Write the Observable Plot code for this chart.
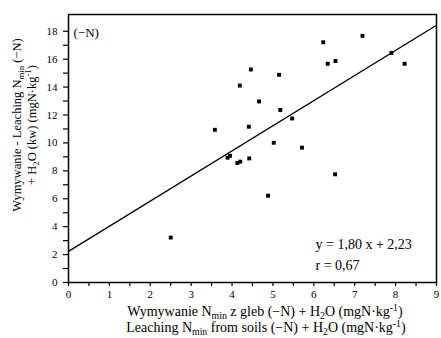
<!DOCTYPE html>
<html><head><meta charset="utf-8">
<script src="https://cdn.jsdelivr.net/npm/d3@7"></script>
<script src="https://cdn.jsdelivr.net/npm/@observablehq/plot@0.6"></script>
<style>body{margin:0;background:#fff} svg{display:block}</style>
</head><body><div id="chart"></div>
<script>
// Data
const xValues = [2.50, 3.58, 3.89, 3.95, 4.13, 4.20, 4.19, 4.41, 4.42, 4.46, 4.66, 4.88, 5.02, 5.15, 5.18, 5.47, 5.71, 6.23, 6.34, 6.53, 6.52, 7.19, 7.90, 8.22];
const yValues = [3.22, 10.94, 8.94, 9.08, 8.56, 8.66, 14.11, 11.16, 8.89, 15.26, 12.97, 6.22, 10.01, 14.88, 12.36, 11.75, 9.66, 17.21, 15.67, 15.87, 7.75, 17.67, 16.45, 15.67];
const xTickLabels = [0, 1, 2, 3, 4, 5, 6, 7, 8, 9];
const yTickLabels = [0, 2, 4, 6, 8, 10, 12, 14, 16, 18];
const slope = 1.80;
const intercept = 2.23;
const fitRange = [0, 9];
const panelLabel = "(−N)";
const equationText = "y = 1,80 x + 2,23";
const rText = "r = 0,67";

const points = xValues.map((x, i) => ({x, y: yValues[i]}));
const fit = fitRange.map(x => ({x, y: slope * x + intercept}));
const halfTicks = d3.range(0, 9.001, 0.5);
const unitTicks = d3.range(0, 19, 1);

const plot = Plot.plot({
  width: 441, height: 338,
  marginLeft: 68, marginRight: 5, marginTop: 14, marginBottom: 56,
  style: {fontFamily: "'Liberation Serif', serif", fontSize: "11px", background: "#fff", color: "#000"},
  x: {domain: [0, 9], label: null},
  y: {domain: [0, 19.2], label: null},
  marks: [
    Plot.axisX({ticks: halfTicks, tickSize: 4, tickPadding: 4, tickFormat: d => xTickLabels.includes(d) ? String(d) : "", label: null, stroke: "#000", strokeWidth: 1.2}),
    Plot.axisY({ticks: unitTicks, tickSize: 5, tickPadding: 6, tickFormat: d => yTickLabels.includes(d) ? String(d) : "", label: null, stroke: "#000", strokeWidth: 1.2}),
    Plot.frame({stroke: "#000", strokeWidth: 1.5}),
    Plot.line(fit, {x: "x", y: "y", stroke: "#000", strokeWidth: 1.3}),
    Plot.dot(points, {x: "x", y: "y", symbol: "square", r: 2.2, fill: "#000", stroke: "none"}),
    Plot.text([panelLabel], {text: d => d, frameAnchor: "top-left", dx: 5, dy: 18, textAnchor: "start", fontSize: 13, lineAnchor: "middle"}),
    Plot.text([equationText], {text: d => d, frameAnchor: "bottom-right", dx: -121, dy: -38, textAnchor: "start", fontSize: 14, lineAnchor: "middle"}),
    Plot.text([rText], {text: d => d, frameAnchor: "bottom-right", dx: -121, dy: -17, textAnchor: "start", fontSize: 14, lineAnchor: "middle"})
  ]
});
document.getElementById("chart").appendChild(plot);

// Axis titles with sub/superscripts
const svg = d3.select(plot);
function rich(g, parts) {
  let shift = 0;
  parts.forEach(([s, t]) => {
    const target = t === "sub" ? 3 : t === "sup" ? -5 : 0;
    const ts = g.append("tspan").text(s).attr("dy", target - shift);
    if (t) ts.attr("font-size", "70%");
    shift = target;
  });
}
const tfont = "'Liberation Serif', serif";
const xt1 = svg.append("text").attr("x", 265).attr("y", 316).attr("text-anchor", "middle").attr("font-family", tfont).attr("font-size", 14).attr("fill", "#000");
rich(xt1, [["Wymywanie N"], ["min", "sub"], [" z gleb (−N) + H"], ["2", "sub"], ["O (mgN·kg"], ["-1", "sup"], [")"]]);
const xt2 = svg.append("text").attr("x", 266).attr("y", 332).attr("text-anchor", "middle").attr("font-family", tfont).attr("font-size", 14).attr("fill", "#000");
rich(xt2, [["Leaching N"], ["min", "sub"], [" from soils (−N) + H"], ["2", "sub"], ["O (mgN·kg"], ["-1", "sup"], [")"]]);
const yt1 = svg.append("text").attr("transform", "translate(21,125) rotate(-90)").attr("text-anchor", "middle").attr("font-family", tfont).attr("font-size", 12.5).attr("fill", "#000");
rich(yt1, [["Wymywanie - Leaching N"], ["min", "sub"], [" (−N)"]]);
const yt2 = svg.append("text").attr("transform", "translate(36,125) rotate(-90)").attr("text-anchor", "middle").attr("font-family", tfont).attr("font-size", 12.5).attr("fill", "#000");
rich(yt2, [["+ H"], ["2", "sub"], ["O (kw) (mgN·kg"], ["-1", "sup"], [")"]]);
</script></body></html>
